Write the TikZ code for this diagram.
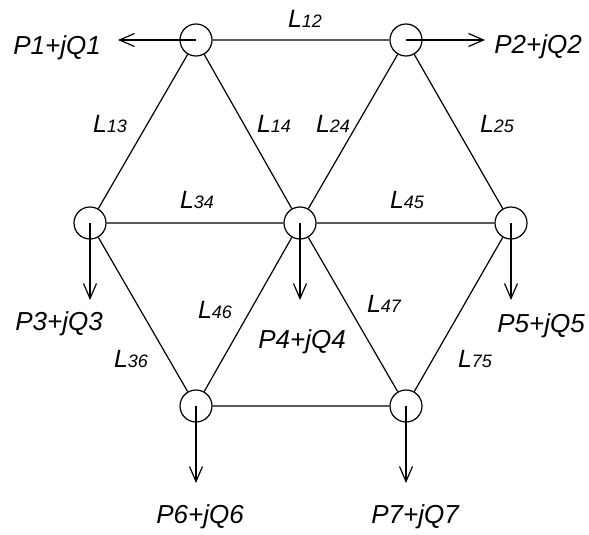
\documentclass[tikz,border=0pt]{standalone}
\usepackage{fontspec}
\setmainfont{Liberation Sans}
\usetikzlibrary{positioning, arrows.meta}

\newcommand{\lname}[1]{L{\fontsize{18}{18}\selectfont #1}}

\begin{document}
\begin{tikzpicture}[x=1pt, y=-1pt, node distance = 183pt and 105pt, on grid,
    >={Straight Barb[length=15pt, width=13pt]}, line width=1.2pt,
    bus/.style={circle, draw, minimum size=32pt, inner sep=0pt},
    pq/.style={anchor=base, inner sep=0pt, font=\fontsize{26}{26}\selectfont\itshape},
    ln/.style={anchor=base, inner sep=0pt, font=\fontsize{25}{25}\selectfont\itshape}]
    \useasboundingbox (0,0) rectangle (589,535);

    \node[bus] (4) at (300,223) {};
    \node[bus, above left=183pt and 104pt of 4] (1) {};
    \node[bus, above right=183pt and 106pt of 4] (2) {};
    \node[bus, left=210pt of 4] (3) {};
    \node[bus, right=211pt of 4] (5) {};
    \node[bus, below left=183pt and 104pt of 4] (6) {};
    \node[bus, below right=183pt and 106pt of 4] (7) {};

    \coordinate[left=78pt of 1] (e1);
    \coordinate[right=79pt of 2] (e2);
    \coordinate[below=77pt of 3] (e3);
    \coordinate[below=77pt of 4] (e4);
    \coordinate[below=77pt of 5] (e5);
    \coordinate[below=77pt of 6] (e6);
    \coordinate[below=77pt of 7] (e7);

    \draw (1) -- (2)
    (1) -- (3) (1) -- (4)
    (2) -- (4) (2) -- (5)
    (3) -- (4) (4) -- (5)
    (3) -- (6) (4) -- (6)
    (4) -- (7) (5) -- (7)
    (6) -- (7);

    \draw[->] (1.center) -- (e1);
    \draw[->] (2.center) -- (e2);
    \draw[->] (3.center) -- (e3);
    \draw[->] (4.center) -- (e4);
    \draw[->] (5.center) -- (e5);
    \draw[->] (6.center) -- (e6);
    \draw[->] (7.center) -- (e7);

    \node[pq] (p1) at (57,55) {P1+jQ1};
    \node[pq] (p2) at (538,54) {P2+jQ2};
    \node[pq] (p3) at (59,330) {P3+jQ3};
    \node[pq] (p4) at (302,348) {P4+jQ4};
    \node[pq] (p5) at (541,332) {P5+jQ5};
    \node[pq] (p6) at (200,523) {P6+jQ6};
    \node[pq] (p7) at (415,523) {P7+jQ7};

    \node[ln] (l12) at (305,28) {\lname{12}};
    \node[ln] (l13) at (110,132) {\lname{13}};
    \node[ln] (l14) at (274,132) {\lname{14}};
    \node[ln] (l24) at (333,132) {\lname{24}};
    \node[ln] (l25) at (497,132) {\lname{25}};
    \node[ln] (l34) at (197,208) {\lname{34}};
    \node[ln] (l45) at (407,208) {\lname{45}};
    \node[ln] (l46) at (215,318) {\lname{46}};
    \node[ln] (l47) at (384,312) {\lname{47}};
    \node[ln] (l36) at (131,367) {\lname{36}};
    \node[ln] (l75) at (475,367) {\lname{75}};
\end{tikzpicture}
\end{document}
